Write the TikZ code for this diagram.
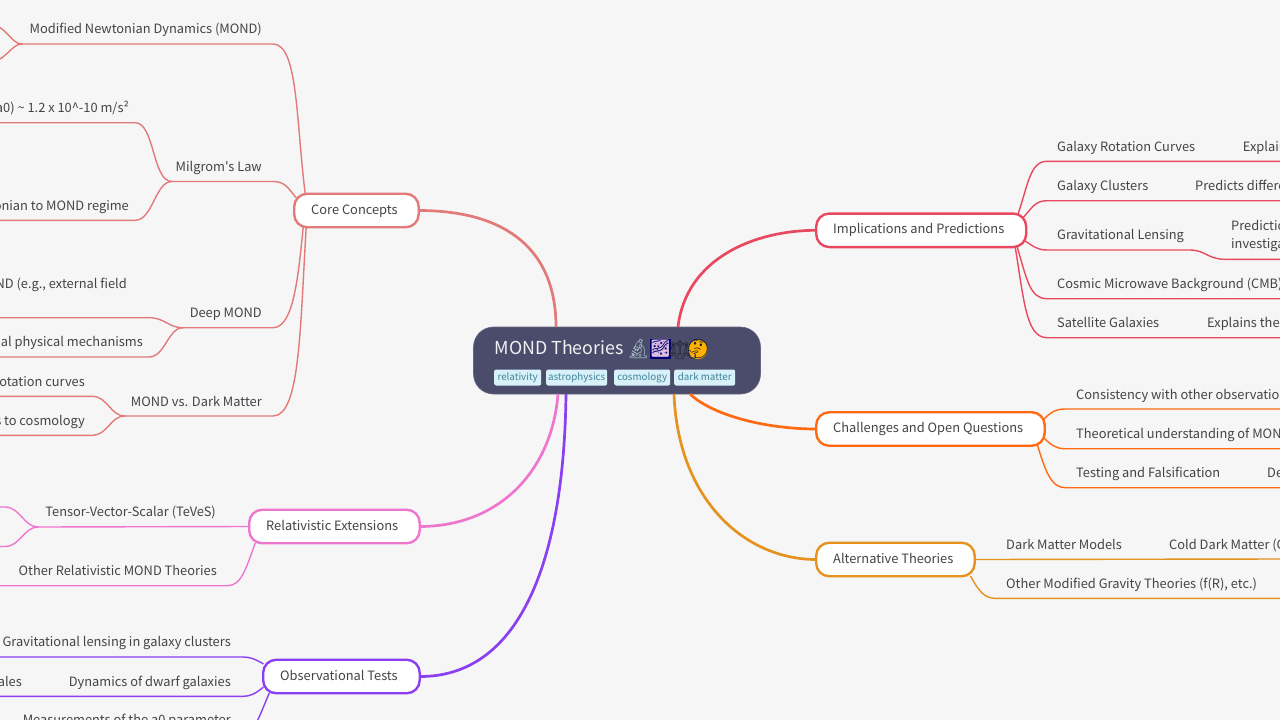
\documentclass[tikz,border=0pt]{standalone}
\usepackage{fontspec}
\setmainfont{Noto Sans CJK SC}
\newfontfamily\plainfont{Noto Sans CJK SC}
\newfontfamily\emojifont{Noto Emoji}
\usetikzlibrary{calc}
\definecolor{bgc}{HTML}{F6F6F6}
\definecolor{ink}{HTML}{444444}
\definecolor{rootc}{HTML}{4B4C6B}
\definecolor{tagc}{HTML}{D8F1F8}
\definecolor{tagt}{HTML}{3F8298}
\definecolor{ccore}{HTML}{E27A7A}
\definecolor{crel}{HTML}{EF76CF}
\definecolor{cobs}{HTML}{8A3FF0}
\definecolor{cimp}{HTML}{E9495F}
\definecolor{ccha}{HTML}{FF6A13}
\definecolor{calt}{HTML}{E5921E}
\tikzset{
  x=1pt,y=-1pt,
  lf/.style={font=\fontsize{12.85}{16}\selectfont,text=ink,inner sep=0pt},
  lfL/.style={lf,anchor=base east},
  lfR/.style={lf,anchor=base west},
  bx/.style={draw=#1,fill=white,line width=2.4pt,rounded corners=13pt,anchor=west,inner sep=0pt,outer sep=0pt,
    minimum height=33.5pt,text height=11pt,text depth=4pt,text=ink,font=\fontsize{12.85}{16}\selectfont},
  tag/.style={fill=tagc,rounded corners=2pt,inner sep=0pt,minimum height=16pt,anchor=west,text=tagt,
    font=\fontsize{9.8}{12}\selectfont,text height=8pt,text depth=2.5pt},
  em/.style={font=\emojifont\fontsize{19}{22}\selectfont,inner sep=0pt,anchor=center},
  main/.style={line width=2.7pt,draw=#1},
  sub/.style={line width=1.4pt,draw=#1,line cap=round}
}
\newcommand{\bxt}[2]{\makebox[#1pt][l]{\hspace{17pt}#2}}
\begin{document}
\begin{tikzpicture}
\useasboundingbox (0,0) rectangle (1280,720);
\clip (0,0) rectangle (1280,720);
\fill[bgc] (0,0) rectangle (1280,720);

% ---- named points
\coordinate (a1) at (-20,20);  \coordinate (a2) at (-20,66);
\coordinate (modL) at (22,44); \coordinate (modR) at (273,44);
\coordinate (milL) at (172,181.5); \coordinate (milR) at (273,181.5);
\coordinate (deeL) at (183,327.7); \coordinate (deeR) at (273,327.7);
\coordinate (vsL) at (125,416); \coordinate (vsR) at (273,416);
\coordinate (m1R) at (135,122.7); \coordinate (m1L) at (-5,122.7);
\coordinate (m2R) at (135,220.3); \coordinate (m2L) at (-5,220.3);
\coordinate (d1R) at (149,317.7); \coordinate (d1L) at (-5,317.7);
\coordinate (d2R) at (149,357); \coordinate (d2L) at (-5,357);
\coordinate (v1R) at (92,396.3); \coordinate (v1L) at (-5,396.3);
\coordinate (v2R) at (92,435.3); \coordinate (v2L) at (-5,435.3);
\coordinate (tevL) at (38,527);
\coordinate (t1) at (-15,507); \coordinate (t2) at (-15,546.5);
\coordinate (othL) at (-5,585.7); \coordinate (othR) at (228,585.7);
\coordinate (o1L) at (-5,657); \coordinate (o1R) at (243,657);
\coordinate (o2L) at (-5,696.3); \coordinate (o2R) at (243,696.3);
\coordinate (o3) at (250,735);
\coordinate (i1L) at (1047,161.3); \coordinate (i1R) at (1285,161.3);
\coordinate (i2L) at (1047,200.7); \coordinate (i2R) at (1285,200.7);
\coordinate (i3L) at (1047,250); \coordinate (i3M) at (1190,250);
\coordinate (i3N) at (1225,259.3); \coordinate (i3R) at (1285,259.3);
\coordinate (i4L) at (1047,298.7); \coordinate (i4R) at (1285,298.7);
\coordinate (i5L) at (1047,337.7); \coordinate (i5R) at (1285,337.7);
\coordinate (c1L) at (1065,409); \coordinate (c1R) at (1285,409);
\coordinate (c2L) at (1065,448.7); \coordinate (c2R) at (1285,448.7);
\coordinate (c3L) at (1065,487.7); \coordinate (c3R) at (1285,487.7);
\coordinate (f1R) at (1285,559);
\coordinate (f2L) at (995,598.3); \coordinate (f2R) at (1285,598.3);

% ---- root and main boxes
\node[fill=rootc,draw=rootc!85!white,line width=.6pt,rounded corners=20pt,minimum width=287pt,minimum height=67pt,inner sep=0pt,outer sep=0pt,anchor=north west] (root) at (473.5,327) {};
\node[bx=ccore,minimum width=124.5pt] (core) at (294.2,210.5) {\bxt{124.5}{Core Concepts}};
\node[bx=crel,minimum width=170.5pt] (rel) at (249.2,526.5) {\bxt{170.5}{Relativistic Extensions}};
\node[bx=cobs,minimum width=156.5pt] (obs) at (263.2,676.5) {\bxt{156.5}{Observational Tests}};
\node[bx=cimp,minimum width=210pt] (imp) at (816.2,230.3) {\bxt{210}{Implications and Predictions}};
\node[bx=ccha,minimum width=228.5pt] (cha) at (816.2,429) {\bxt{228.5}{Challenges and Open Questions}};
\node[bx=calt,minimum width=158.5pt] (alt) at (816.2,559.5) {\bxt{158.5}{Alternative Theories}};

% ---- root content
\node[anchor=base west,inner sep=0pt,text=white!92!rootc,font=\fontsize{17.8}{22}\selectfont] (title) at (494.5,354.5) {MOND Theories};
\node[em,text=cyan!30!gray!70!white] (e1) at (638.5,349.5) {🔬};
\fill[blue!45!black] (650,339) rectangle (670.5,359);
\node[em,text=violet!25!white,font=\emojifont\fontsize{17}{20}\selectfont] (e2) at (660.3,349) {🌌};
\node[em,text=rootc!55!black] (e3) at (680,350) {⚖};
\fill[orange!60!yellow] (698,349.5) circle (9.5pt);
\node[em,text=rootc!40!black] (e4) at (698,349.5) {🤔};
\node[tag,minimum width=47pt] (t-a) at (494,377.5) {relativity};
\node[tag,minimum width=61pt] (t-b) at (546,377.5) {astrophysics};
\node[tag,minimum width=56pt] (t-c) at (614,377.5) {cosmology};
\node[tag,minimum width=61pt] (t-d) at (674,377.5) {dark matter};

% ---- left texts
\node[lfL] (tMod) at (262,34) {Modified Newtonian Dynamics (MOND)};
\node[lfL] (tMil) at (262,171) {\plainfont Milgrom's Law};
\node[lfL] (tDee) at (262,317) {Deep MOND};
\node[lfL] (tVs) at (262,406) {MOND vs. Dark Matter};
\node[lfL] (tM1) at (129,112) {(a0) \textasciitilde{} 1.2 x 10\textasciicircum{}-10 m/s²};
\node[lfL] (tM2) at (129,210) {Newtonian to MOND regime};
\node[lfL] (tD1) at (127,288) {MOND (e.g., external field};
\node[lfL] (tD2) at (143,346) {additional physical mechanisms};
\node[lfL] (tV1) at (85,386) {rotation curves};
\node[lfL] (tV2) at (85,425) {s to cosmology};
\node[lfL] (tTev) at (216,516) {Tensor-Vector-Scalar (TeVeS)};
\node[lfL] (tOth) at (217,575) {Other Relativistic MOND Theories};
\node[lfL] (tO1) at (231,646.5) {Gravitational lensing in galaxy clusters};
\node[lfL] (tO2) at (231,686) {Dynamics of dwarf galaxies};
\node[lfL] (tO2b) at (22,686) {scales};
\node[lfL] (tO3) at (231,724.5) {Measurements of the a0 parameter};

% ---- right texts
\node[lfR] (tI1) at (1057,151) {Galaxy Rotation Curves};
\node[lfR] (tI1b) at (1242.7,151) {Explains};
\node[lfR] (tI2) at (1057,190) {Galaxy Clusters};
\node[lfR] (tI2b) at (1195,190) {Predicts different};
\node[lfR] (tI3) at (1057,239) {Gravitational Lensing};
\node[lfR] (tI3b) at (1231,230) {Predictions};
\node[lfR] (tI3c) at (1231,248.5) {investigation};
\node[lfR] (tI4) at (1057,288) {Cosmic Microwave Background (CMB)};
\node[lfR] (tI5) at (1057,327) {Satellite Galaxies};
\node[lfR] (tI5b) at (1207,327) {Explains the};
\node[lfR] (tC1) at (1076,399) {Consistency with other observations};
\node[lfR] (tC2) at (1076,438) {Theoretical understanding of MOND};
\node[lfR] (tC3) at (1076,477) {Testing and Falsification};
\node[lfR] (tC3b) at (1267,477) {De};
\node[lfR] (tF1) at (1006,549) {Dark Matter Models};
\node[lfR] (tF1b) at (1169,549) {Cold Dark Matter (CDM)};
\node[lfR] (tF2) at (1006,588) {Other Modified Gravity Theories (f(R), etc.)};

% ---- main branches
\draw[main=ccore] (core.east) .. controls (508,210.5) and (556,251) .. ([xshift=-61pt]root.north);
\draw[main=crel] (rel.east) .. controls (500,526.5) and (552,470) .. ([xshift=-59pt]root.south);
\draw[main=cobs] (obs.east) .. controls (518,677) and (564,565) .. ([xshift=-51pt]root.south);
\draw[main=cimp] (imp.west) .. controls (755,230.3) and (686,258) .. ([xshift=61pt]root.north);
\draw[main=ccha] (cha.west) .. controls (765,429) and (712,415) .. ([xshift=73pt]root.south);
\draw[main=calt] (alt.west) .. controls (745,559.5) and (678,500) .. ([xshift=57pt]root.south);

% ---- core concepts
\begin{scope}[every path/.style={sub=ccore}]
\draw ([xshift=11pt]core.north west) .. controls (296,120) and (298,44) .. (modR) -- (modL);
\draw ([xshift=2pt,yshift=-4pt]core.north west) .. controls (288,188) and (285,181.5) .. (milR) -- (milL);
\draw ([xshift=9pt]core.south west) .. controls (298,280) and (293,327.7) .. (deeR) -- (deeL);
\draw ([xshift=12pt]core.south west) .. controls (300,330) and (300,416) .. (vsR) -- (vsL);
\draw (modL) .. controls (10,44) and (8,24) .. (a1);
\draw (modL) .. controls (10,44) and (8,62) .. (a2);
\draw (milL) .. controls (152,181.5) and (155,122.7) .. (m1R) -- (m1L);
\draw (milL) .. controls (155,181.5) and (153,220.3) .. (m2R) -- (m2L);
\draw (deeL) .. controls (168,327.7) and (165,317.7) .. (d1R) -- (d1L);
\draw (deeL) .. controls (168,327.7) and (165,357) .. (d2R) -- (d2L);
\draw (vsL) .. controls (110,416) and (108,396.3) .. (v1R) -- (v1L);
\draw (vsL) .. controls (110,416) and (108,435.3) .. (v2R) -- (v2L);
\end{scope}
% ---- relativistic
\begin{scope}[every path/.style={sub=crel}]
\draw (rel.west) -- (tevL);
\draw (tevL) .. controls (24,527) and (20,507) .. (5,507) -- (t1);
\draw (tevL) .. controls (24,527) and (20,546.5) .. (5,546.5) -- (t2);
\draw ([xshift=6pt]rel.south west) .. controls (247,565) and (242,585.7) .. (othR) -- (othL);
\end{scope}
% ---- observational
\begin{scope}[every path/.style={sub=cobs}]
\draw ([yshift=-4pt]obs.north west) .. controls (255,659) and (250,657) .. (o1R) -- (o1L);
\draw ([yshift=6pt]obs.south west) .. controls (255,694) and (250,696.3) .. (o2R) -- (o2L);
\draw ([xshift=6pt]obs.south west) .. controls (264,705) and (261,715) .. (o3);
\end{scope}
% ---- implications
\begin{scope}[every path/.style={sub=cimp}]
\draw ([xshift=-8pt]imp.north east) .. controls (1028,185) and (1030,161.3) .. (i1L) -- (i1R);
\draw ([xshift=-3pt,yshift=-4pt]imp.north east) .. controls (1032,208) and (1035,200.7) .. (i2L) -- (i2R);
\draw ([xshift=-1pt,yshift=6pt]imp.south east) .. controls (1033,246) and (1037,250) .. (i3L) -- (i3M)
   .. controls (1205,250) and (1208,259.3) .. (i3N) -- (i3R);
\draw ([xshift=-9pt]imp.south east) .. controls (1027,280) and (1030,298.7) .. (i4L) -- (i4R);
\draw ([xshift=-11pt]imp.south east) .. controls (1024,300) and (1026,337.7) .. (i5L) -- (i5R);
\end{scope}
% ---- challenges
\begin{scope}[every path/.style={sub=ccha}]
\draw ([xshift=-1pt,yshift=-7pt]cha.north east) .. controls (1051,412) and (1056,409) .. (c1L) -- (c1R);
\draw ([xshift=-1pt,yshift=8pt]cha.south east) .. controls (1051,445) and (1056,448.7) .. (c2L) -- (c2R);
\draw ([xshift=-7pt]cha.south east) .. controls (1045,470) and (1051,487.7) .. (c3L) -- (c3R);
\end{scope}
% ---- alternatives
\begin{scope}[every path/.style={sub=calt}]
\draw (alt.east) -- (f1R);
\draw ([xshift=-4pt]alt.south east) .. controls (978,590) and (984,598.3) .. (f2L) -- (f2R);
\end{scope}
\end{tikzpicture}
\end{document}
